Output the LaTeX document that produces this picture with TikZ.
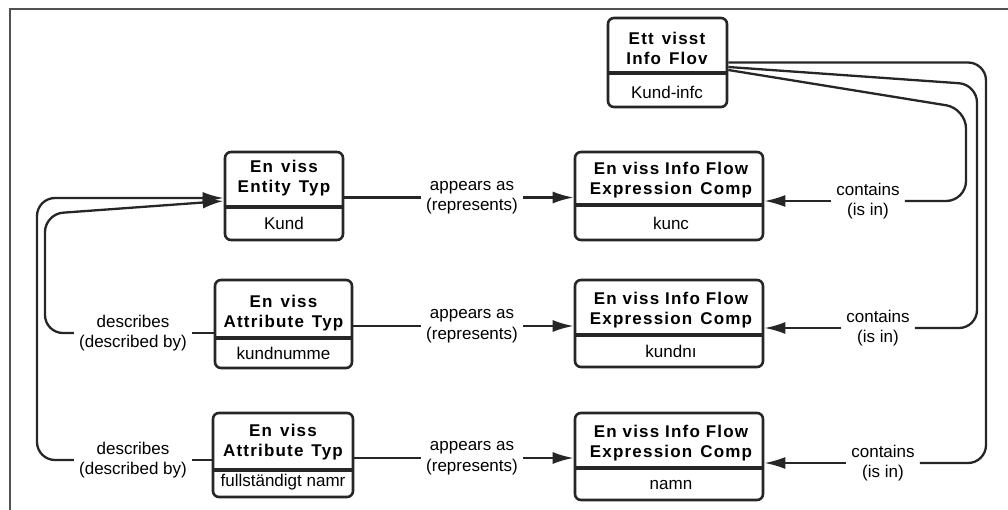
\documentclass[tikz,border=0pt]{standalone}
\usepackage{fontspec}
\setmainfont{Liberation Sans}
\newfontfamily\titlefont[LetterSpace=7]{Liberation Sans}
\usetikzlibrary{arrows.meta}
\newcommand\wordgap{\hspace{8pt}}
\definecolor{ink}{RGB}{38,38,38}

\begin{document}
\begin{tikzpicture}[x=1pt,y=-1pt,
  box/.style={draw=ink, line width=2.6pt, rounded corners=6pt, inner sep=0pt},
  divider/.style={draw=ink, line width=3.4pt},
  title/.style={font=\titlefont\bfseries\fontsize{17}{20}\selectfont, align=center, inner sep=0pt},
  value/.style={font=\fontsize{17}{20}\selectfont, inner sep=0pt},
  lbl/.style={font=\fontsize{17}{20.5}\selectfont, align=center, inner xsep=5pt, inner ysep=0pt},
  conn/.style={draw=ink, line width=2.3pt},
  arr/.style={conn, -{Latex[length=21pt,width=12pt]}},
  frame/.style={draw=ink!80, line width=2pt}
]
\useasboundingbox (0,0) rectangle (1008,510);

% outer frame (top and left edges)
\draw[frame] (10,510) -- (10,9) -- (1008,9);

% ---- information flow ----
\node[box, minimum width=119pt, minimum height=89pt] (flow) at (667.5,62.5) {};
\draw[divider] ([yshift=-10.5pt]flow.west) -- ([yshift=-10.5pt]flow.east);
\node[title] (flow-t) at (667,48.5) {Ett\wordgap visst\\Info\wordgap Flov};
\node[value] (flow-v) at (667,92) {Kund-infc};

% ---- entity type ----
\node[box, minimum width=118pt, minimum height=88pt] (ent) at (284,196) {};
\draw[divider] ([yshift=-11pt]ent.west) -- ([yshift=-11pt]ent.east);
\node[title] (ent-t) at (284,178) {En\wordgap viss\\Entity\wordgap Typ};
\node[value] (ent-v) at (284,223) {Kund};

% ---- attribute types ----
\node[box, minimum width=137pt, minimum height=88pt] (att1) at (283.5,324) {};
\draw[divider] ([yshift=-14pt]att1.west) -- ([yshift=-14pt]att1.east);
\node[title] (att1-t) at (283.5,313.5) {En\wordgap viss\\Attribute\wordgap Typ};
\node[value] (att1-v) at (283.5,353) {kundnumme};

\node[box, minimum width=140pt, minimum height=84pt] (att2) at (283,455) {};
\draw[divider] ([yshift=-15pt]att2.west) -- ([yshift=-15pt]att2.east);
\node[title] (att2-t) at (283,442.5) {En\wordgap viss\\Attribute\wordgap Typ};
\node[value] (att2-v) at (283,482) {fullständigt namr};

% ---- expression components ----
\node[box, minimum width=188pt, minimum height=88pt] (ex1) at (669,196) {};
\draw[divider] ([yshift=-9pt]ex1.west) -- ([yshift=-9pt]ex1.east);
\node[title] (ex1-t) at (671,180) {En viss Info Flow\\Expression\wordgap Comp};
\node[value] (ex1-v) at (671,223) {kunc};

\node[box, minimum width=188pt, minimum height=87pt] (ex2) at (669,323.5) {};
\draw[divider] ([yshift=-11.5pt]ex2.west) -- ([yshift=-11.5pt]ex2.east);
\node[title] (ex2-t) at (671,310) {En viss Info Flow\\Expression\wordgap Comp};
\node[value] (ex2-v) at (671,351) {kundnı};

\node[box, minimum width=188pt, minimum height=87pt] (ex3) at (669,456.5) {};
\draw[divider] ([yshift=-11.5pt]ex3.west) -- ([yshift=-11.5pt]ex3.east);
\node[title] (ex3-t) at (671,443) {En viss Info Flow\\Expression\wordgap Comp};
\node[value] (ex3-v) at (671,485) {namn};

% ---- relationship labels ----
\node[lbl] (ap1) at (472,197.5) {appears as\\(represents)};
\node[lbl] (ap2) at (472,326) {appears as\\(represents)};
\node[lbl] (ap3) at (472,458) {appears as\\(represents)};
\node[lbl] (ct1) at (868,201) {contains\\(is in)};
\node[lbl] (ct2) at (878,328) {contains\\(is in)};
\node[lbl] (ct3) at (883,463) {contains\\(is in)};
\node[lbl] (ds1) at (133,333) {describes\\(described by)};
\node[lbl] (ds2) at (133,460) {describes\\(described by)};

% appears as (represents)
\draw[conn] (ap1.west) -- (ap1.west -| ent.east);
\draw[arr]  (ap1.east) -- (ap1.east -| ex1.west);
\draw[conn] (ap2.west) -- (ap2.west -| att1.east);
\draw[arr]  (ap2.east) -- (ap2.east -| ex2.west);
\draw[conn] (ap3.west) -- (ap3.west -| att2.east);
\draw[arr]  (ap3.east) -- (ap3.east -| ex3.west);

% contains (is in)
\draw[arr]  (ct1.west) -- (ct1.west -| ex1.east);
\draw[conn, rounded corners=20pt] ([yshift=-7.5pt]flow.east) -- (966,108.5) -- (966,201) -- (ct1.east);
\draw[arr]  (ct2.west) -- (ct2.west -| ex2.east);
\draw[conn, rounded corners=18pt] ([yshift=-4.5pt]flow.east) -- (977,84.5) -- (977,328) -- (ct2.east);
\draw[arr]  (ct3.west) -- (ct3.west -| ex3.east);
\draw[conn, rounded corners=18pt] (flow.east) -- (986,62.5) -- (986,463) -- (ct3.east);

% describes (described by)
\draw[conn] (ds1.east) -- (ds1.east -| att1.west);
\draw[arr, rounded corners=18pt] (ds1.west) -- (45,333) -- (45,214) -- ([yshift=-5pt]ent.west);
\draw[conn] (ds2.east) -- (ds2.east -| att2.west);
\draw[arr, rounded corners=18pt] (ds2.west) -- (37,460) -- (37,198) -- ([yshift=-2pt]ent.west);
\end{tikzpicture}
\end{document}
